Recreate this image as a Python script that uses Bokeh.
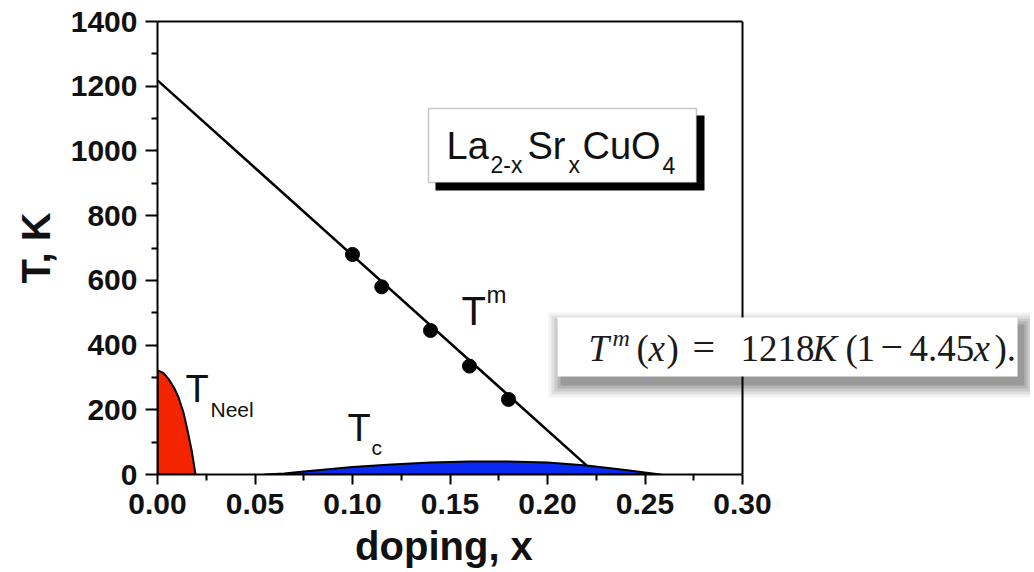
from bokeh.plotting import figure
from bokeh.models import Range1d, FixedTicker, PrintfTickFormatter, Label, BoxAnnotation, LinearAxis
from bokeh.embed import file_html
from bokeh.resources import INLINE

# ---------------- data ----------------
tm_x = [0.100, 0.115, 0.140, 0.160, 0.180]
tm_T = [680, 580, 445, 335, 232]

tm_fit_x = [0.0, 0.22]
tm_fit_T = [1218, 28]

neel_x = [0.0, 0.0, 0.003, 0.0057, 0.0085, 0.0108, 0.0133, 0.0154, 0.0175, 0.0195]
neel_T = [0, 322, 314, 295, 268, 238, 192, 136, 75, 0]

tc_x = [0.055, 0.065, 0.075, 0.085, 0.100, 0.120, 0.140, 0.160, 0.180, 0.200, 0.220, 0.240, 0.250, 0.258]
tc_T = [0, 3, 9, 15, 23, 31, 37, 40, 40, 37, 28, 14, 6, 0]

x_ticks = [0.00, 0.05, 0.10, 0.15, 0.20, 0.25, 0.30]
x_minor = [0.025, 0.075, 0.125, 0.175, 0.225, 0.275]
y_ticks = [0, 200, 400, 600, 800, 1000, 1200, 1400]
y_minor = [100, 300, 500, 700, 900, 1100, 1300]

x_label = "doping, x"
y_label = "T, K"
compound = [("La", "main"), ("2-x", "sub"), ("Sr", "main"), ("x", "sub"), ("CuO", "main"), ("4", "sub")]

# ---------------- layout (pixels) ----------------
W, H = 1030, 572
PX0, PX1 = 157.0, 742.0     # pixel of x = 0 and x = 0.30
PY0, PY1 = 474.0, 21.0      # pixel of T = 0 and T = 1400
X_AX_MIN, X_AX_MAX = x_ticks[0], x_ticks[-1]
Y_AX_MIN, Y_AX_MAX = y_ticks[0], y_ticks[-1]
x_end = X_AX_MAX * (W - PX0) / (PX1 - PX0)   # frame extended to the right so the formula box can sit there

def dx(px):
    return (px - PX0) / (PX1 - PX0) * X_AX_MAX
def dy(py):
    return (PY0 - py) / (PY0 - PY1) * Y_AX_MAX

p = figure(width=W, height=H, x_range=Range1d(X_AX_MIN, x_end), y_range=Range1d(Y_AX_MIN, Y_AX_MAX),
           output_backend="svg", toolbar_location=None,
           min_border_left=int(PX0), min_border_right=0,
           min_border_top=int(PY1), min_border_bottom=int(H - PY0))
p.background_fill_color = "white"
p.border_fill_color = "white"
p.outline_line_color = None
p.grid.visible = False

FONT = "Liberation Sans"
for ax in (p.xaxis[0], p.yaxis[0]):
    ax.axis_line_width = 2
    ax.axis_line_color = "black"
    ax.major_tick_line_width = 2
    ax.minor_tick_line_width = 2
    ax.major_tick_in = 0
    ax.minor_tick_in = 0
    ax.major_label_text_font = FONT
    ax.major_label_text_font_style = "bold"
    ax.major_label_text_font_size = "30px"
    ax.major_label_text_color = "#111111"
    ax.axis_label_text_font = FONT
    ax.axis_label_text_font_style = "bold"
    ax.axis_label_text_font_size = "40px"
    ax.axis_label_text_color = "#111111"

# the x-axis label is centred on the wide frame, so it is padded on the right
# with no-break spaces to sit under the data span
LABEL_CX = 441.5
pad = int(round(((PX0 + W) / 2 - LABEL_CX) * 2 / (0.278 * 40)))
p.xaxis.ticker = FixedTicker(ticks=x_ticks, minor_ticks=x_minor)
p.xaxis.bounds = (X_AX_MIN, X_AX_MAX)
p.xaxis.formatter = PrintfTickFormatter(format="%.2f")
p.xaxis.major_tick_out = 10
p.xaxis.minor_tick_out = 6
p.xaxis.major_label_standoff = 9
p.xaxis.axis_label_standoff = 7
p.xaxis.axis_label = x_label + "\u00a0" * pad

p.yaxis.ticker = FixedTicker(ticks=y_ticks, minor_ticks=y_minor)
p.yaxis.major_tick_out = 12
p.yaxis.minor_tick_out = 6
p.yaxis.major_label_standoff = 8
p.yaxis.axis_label_standoff = 10
p.yaxis.axis_label = y_label

# top frame line: a bare axis limited to the data span
top = LinearAxis(ticker=FixedTicker(ticks=[]), bounds=(X_AX_MIN, X_AX_MAX), axis_line_width=2,
                 axis_line_color="black", major_tick_out=0, minor_tick_out=0, major_tick_in=0,
                 minor_tick_in=0, major_label_text_font_size="0px")
p.add_layout(top, "above")

# right frame line at the end of the x axis
p.line([X_AX_MAX, X_AX_MAX], [Y_AX_MIN, Y_AX_MAX], line_color="black", line_width=2)

# ---------------- data marks ----------------
p.patch(neel_x, neel_T, fill_color="#f42400", line_color="black", line_width=2)
p.patch(tc_x, tc_T, fill_color="#0a2af2", line_color="black", line_width=2)
p.line(tm_fit_x, tm_fit_T, line_color="black", line_width=2.5)
p.scatter(tm_x, tm_T, size=14, marker="circle", fill_color="black", line_color="black")

# ---------------- text labels ----------------
def lab(text, px, base_py, size, font=FONT, style="normal", color="#111111"):
    s = float(size.replace("px", ""))
    p.add_layout(Label(x=dx(px), y=dy(base_py - 0.36 * s), text=text, text_font=font,
                       text_font_style=style, text_font_size=size, text_color=color,
                       text_baseline="alphabetic", text_align="left"))

lab("T", 185, 402, "38px")
lab("Neel", 210, 417, "21px")
lab("T", 347, 441, "38px")
lab("c", 371, 455, "21px")
lab("T", 461, 325, "40px")
lab("m", 486, 303, "24px")

# compound box with black drop shadow
p.add_layout(BoxAnnotation(left=dx(435), right=dx(704), top=dy(115), bottom=dy(190),
                           fill_color="black", fill_alpha=1, line_alpha=0))
p.add_layout(BoxAnnotation(left=dx(428), right=dx(696), top=dy(108), bottom=dy(182),
                           fill_color="white", fill_alpha=1, line_color="#444444", line_width=1.5))
pos = {"La": 446, "2-x": 490, "Sr": 527, "x": 568, "CuO": 582, "4": 662}
for t, kind in compound:
    if kind == "main":
        lab(t, pos[t], 159, "38px")
    else:
        lab(t, pos[t], 173, "23px")

# equation box with soft shadow
for e, a in [(15, 0.05), (12, 0.07), (9, 0.09), (6, 0.11), (3, 0.14)]:
    p.add_layout(BoxAnnotation(left=dx(557 - e + 6), right=dx(1017 + e + 4), top=dy(317 - e + 10),
                               bottom=dy(376 + e + 6), fill_color="black", fill_alpha=a, line_alpha=0))
p.add_layout(BoxAnnotation(left=dx(557), right=dx(1017), top=dy(317), bottom=dy(376),
                           fill_color="white", fill_alpha=1, line_alpha=0))

SERIF = "Liberation Serif"
eq = [("T", 588, "italic", "37px", 361), ("m", 612, "italic", "24px", 346),
      ("(", 636, "normal", "37px", 361), ("x", 648, "italic", "37px", 361),
      (")", 666, "normal", "37px", 361), ("=", 692, "normal", "40px", 361),
      ("1218", 740, "normal", "37px", 361), ("K", 812, "italic", "37px", 361),
      ("(", 845, "normal", "37px", 361), ("1", 856, "normal", "37px", 361),
      ("\u2212", 880, "normal", "40px", 361), ("4.45", 909, "normal", "37px", 361),
      ("x", 973, "italic", "37px", 361), (").", 994, "normal", "37px", 361)]
for t, px, st, sz, by in eq:
    lab(t, px, by, sz, font=SERIF, style=st, color="#1a1a1a")

open("out.html", "w").write(file_html(p, INLINE))
